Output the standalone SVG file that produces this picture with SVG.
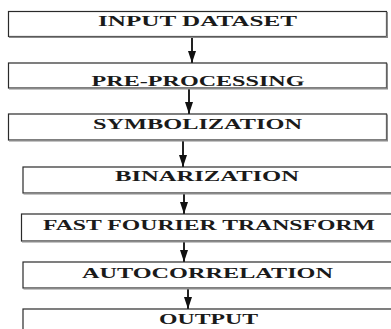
<svg xmlns="http://www.w3.org/2000/svg" width="391" height="329" viewBox="0 0 391 329">
<defs>
<style>
.box{fill:#fff;stroke:#2a2a2a;stroke-width:1.2}
.shadow{fill:none;stroke:#8a8a8a;stroke-width:1.6}
.lbl{font-family:"Liberation Serif","Times New Roman",serif;font-weight:bold;font-size:15px;fill:#1a1a1a;text-anchor:middle}
.conn{stroke:#222;stroke-width:2;fill:none}
.head{fill:#111}
</style>
<marker id="ah" markerWidth="12" markerHeight="8" refX="12" refY="4" orient="auto" markerUnits="userSpaceOnUse">
<path d="M0,0 L12,4 L0,8 Z" class="head"/>
</marker>
</defs>
<rect width="391" height="329" fill="#fff"/>
<g id="connectors">
<line class="conn" x1="192" y1="37" x2="192" y2="63" marker-end="url(#ah)"/>
<line class="conn" x1="189" y1="88" x2="189" y2="114" marker-end="url(#ah)"/>
<line class="conn" x1="183" y1="140" x2="183" y2="167" marker-end="url(#ah)"/>
<line class="conn" x1="184" y1="193" x2="184" y2="214" marker-end="url(#ah)"/>
<line class="conn" x1="184" y1="241" x2="184" y2="262" marker-end="url(#ah)"/>
<line class="conn" x1="188" y1="288" x2="188" y2="309" marker-end="url(#ah)"/>
</g>
<g id="n1">
<rect class="box" x="8.5" y="11.5" width="378" height="25"/>
<path class="shadow" d="M9,37.2 H387.2 V12"/>
<text class="lbl" x="197.5" y="25.5" textLength="199" lengthAdjust="spacingAndGlyphs">INPUT DATASET</text>
</g>
<g id="n2">
<rect class="box" x="8.5" y="63" width="378" height="25"/>
<path class="shadow" d="M9,88.7 H387.2 V63.5"/>
<text class="lbl" x="198" y="85.5" textLength="213" lengthAdjust="spacingAndGlyphs">PRE-PROCESSING</text>
</g>
<g id="n3">
<rect class="box" x="8.5" y="114" width="378" height="26"/>
<path class="shadow" d="M9,140.7 H387.2 V114.5"/>
<text class="lbl" x="197.5" y="128.5" textLength="209" lengthAdjust="spacingAndGlyphs">SYMBOLIZATION</text>
</g>
<g id="n4">
<rect class="box" x="23" y="167" width="380" height="26"/>
<path class="shadow" d="M23.5,193.7 H395"/>
<text class="lbl" x="207" y="180.5" textLength="184" lengthAdjust="spacingAndGlyphs">BINARIZATION</text>
</g>
<g id="n5">
<rect class="box" x="21.5" y="214" width="380" height="27"/>
<path class="shadow" d="M22,241.7 H395"/>
<text class="lbl" x="209" y="229.5" textLength="332" lengthAdjust="spacingAndGlyphs">FAST FOURIER TRANSFORM</text>
</g>
<g id="n6">
<rect class="box" x="23" y="262" width="380" height="26"/>
<path class="shadow" d="M23.5,288.7 H395"/>
<text class="lbl" x="207.5" y="277.5" textLength="251" lengthAdjust="spacingAndGlyphs">AUTOCORRELATION</text>
</g>
<g id="n7">
<rect class="box" x="23" y="309" width="380" height="30"/>
<text class="lbl" x="208.5" y="323.5" textLength="99" lengthAdjust="spacingAndGlyphs">OUTPUT</text>
</g>
</svg>
